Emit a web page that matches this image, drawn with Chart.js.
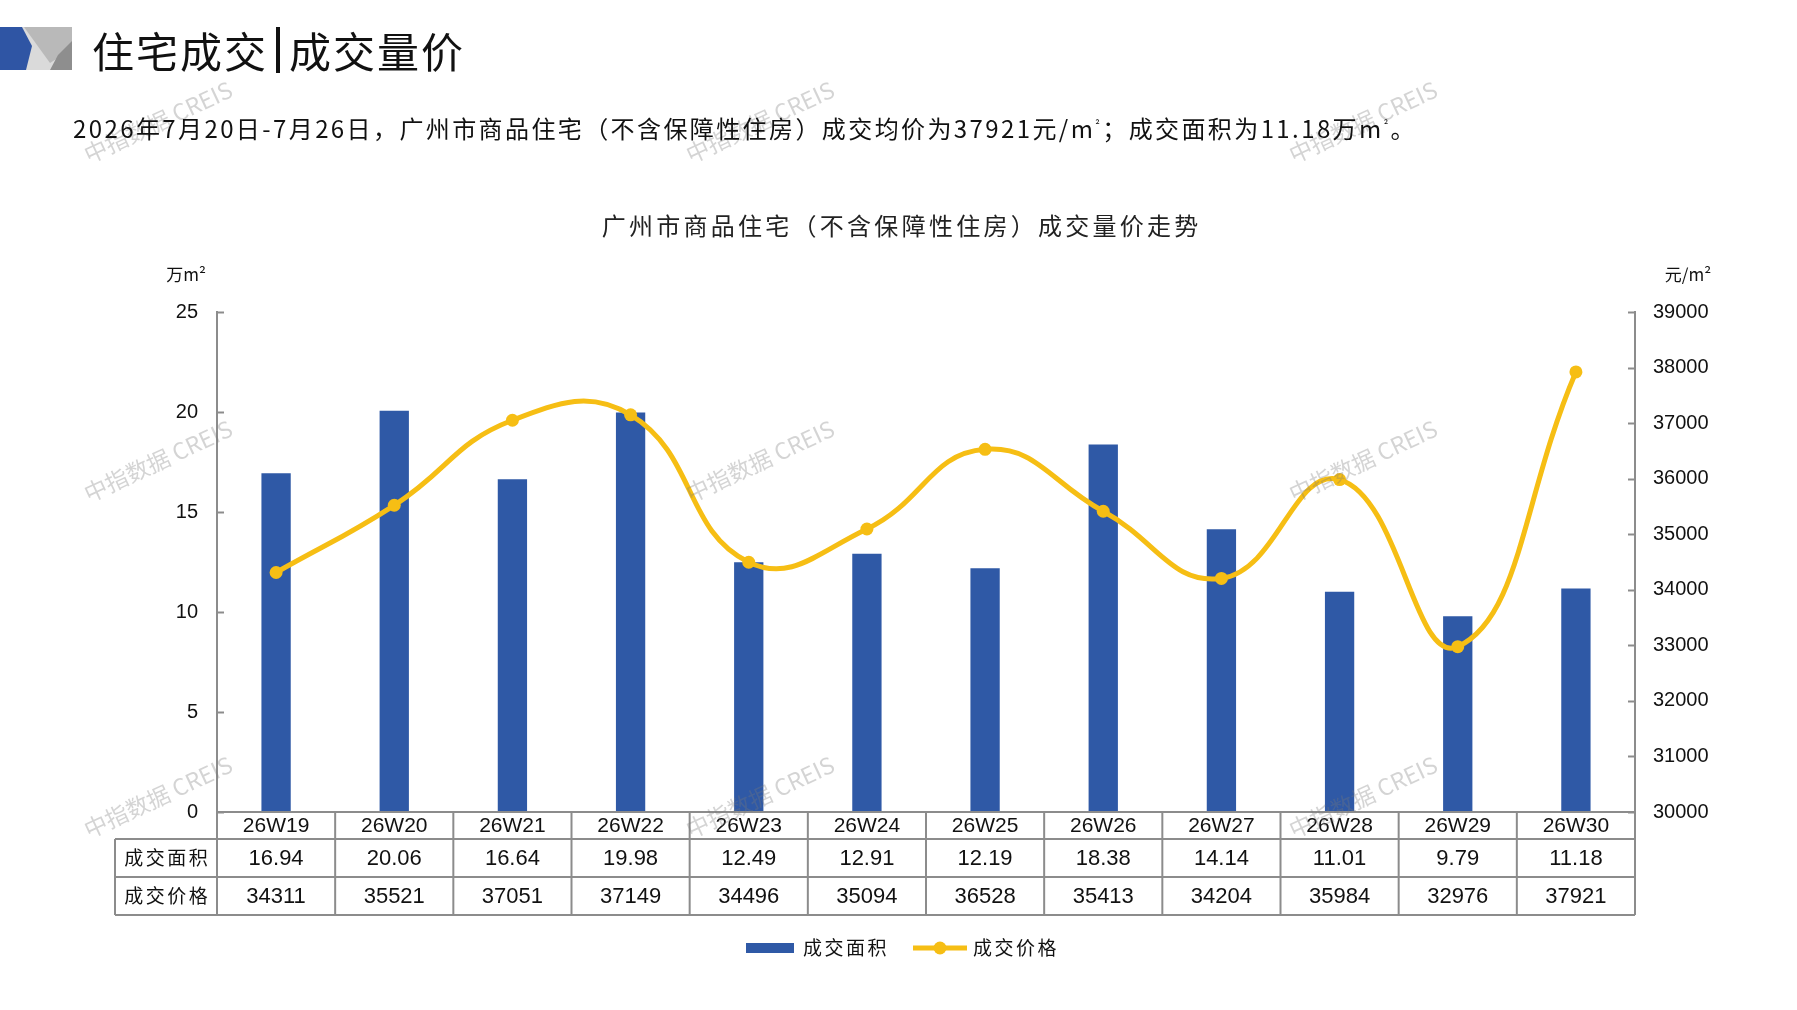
<!DOCTYPE html>
<html lang="zh-CN">
  <head>
    <meta charset="UTF-8" />
    <title>广州市商品住宅成交量价</title>
    <script src="https://cdn.jsdelivr.net/npm/chart.js"></script>
    <style>
      html,
      body {
        width: 100%;
        height: 100%;
        margin: 0;
        padding: 0;
        background: #fff;
        overflow: hidden;
      }
      #wrap {
        position: absolute;
        left: 0;
        top: 0;
        width: 1797px;
        height: 1010px;
      }
      .txt {
        position: absolute;
        white-space: nowrap;
        font-family: "Noto Sans CJK SC", sans-serif;
        color: #111;
        z-index: 2;
      }
      #title {
        left: 92px;
        top: 27px;
        font-size: 42px;
        line-height: 46px;
      }
      #title .sep {
        display: inline-block;
        width: 4px;
        height: 46px;
        background: #111;
        vertical-align: top;
        margin: 0 9px 0 8px;
      }
      #sub {
        left: 73px;
        top: 110px;
        font-size: 24px;
        line-height: 28px;
      }
      #sub .sq {
        font-size: 11px;
        vertical-align: 9px;
      }
      #logo {
        position: absolute;
        left: 0;
        top: 27px;
        z-index: 2;
      }
    </style>
  </head>
  <body>
    <div id="wrap">
      <svg id="logo" width="72" height="43" viewBox="0 0 72 43">
        <rect x="0" y="0" width="72" height="43" fill="#dadada" />
        <polygon points="24,0 72,0 72,22 50,36" fill="#b9b9b9" />
        <polygon points="72,14 72,43 50,43 58,28" fill="#8e8e8e" />
        <polygon points="0,0 22,0 32,19 26,43 0,43" fill="#2f55a4" />
      </svg>
      <div id="title" class="txt"><span class="fit" data-w="176">住宅成交</span><span class="sep"></span><span class="fit" data-w="176">成交量价</span></div>
      <div id="sub" class="txt"><span class="fit" data-w="1344">2026年7月20日-7月26日，广州市商品住宅（不含保障性住房）成交均价为37921元/m<span class="sq">²</span>；成交面积为11.18万m<span class="sq">²</span>。</span></div>
      <canvas id="chart"></canvas>
    </div>

    <script>
      const weeks = ["26W19", "26W20", "26W21", "26W22", "26W23", "26W24", "26W25", "26W26", "26W27", "26W28", "26W29", "26W30"];
      const area = [16.94, 20.06, 16.64, 19.98, 12.49, 12.91, 12.19, 18.38, 14.14, 11.01, 9.79, 11.18];
      const price = [34311, 35521, 37051, 37149, 34496, 35094, 36528, 35413, 34204, 35984, 32976, 37921];
      const seriesNames = ["成交面积", "成交价格"];
      const chartTitle = "广州市商品住宅（不含保障性住房）成交量价走势";
      const leftUnit = "万m²";
      const rightUnit = "元/m²";
      const watermark = "中指数据 CREIS";

      const BLUE = "#2f59a6";
      const GOLD = "#f6be14";
      const GRID = "#8c8c8c";
      const CJK = '"Noto Sans CJK SC"';
      const NARROW = '"Liberation Sans Narrow", "Liberation Sans"';

      // stretch header text to the widths seen in the picture
      document.querySelectorAll(".fit").forEach((el) => {
        el.style.display = "inline-block";
        const w = el.getBoundingClientRect().width;
        const n = el.textContent.length;
        el.style.letterSpacing = (Number(el.dataset.w) - w) / n + "px";
      });

      function spaced(ctx, text, x, y, width) {
        ctx.letterSpacing = "0px";
        const w = ctx.measureText(text).width;
        const s = (width - w) / text.length;
        ctx.letterSpacing = s + "px";
        ctx.fillText(text, x + s / 2, y);
        ctx.letterSpacing = "0px";
      }

      const extras = {
        id: "extras",
        afterDraw(chart) {
          const ctx = chart.ctx;
          const ca = chart.chartArea;
          const xs = chart.scales.x;
          const yl = chart.scales.y;
          const yr = chart.scales.y1;
          ctx.save();

          // chart title
          ctx.fillStyle = "#222";
          ctx.textAlign = "center";
          ctx.textBaseline = "middle";
          ctx.font = "24px " + CJK;
          spaced(ctx, chartTitle, 900, 226, 600);

          // unit labels
          ctx.font = "17px " + CJK;
          ctx.fillStyle = "#111";
          ctx.fillText(leftUnit, 186, 275);
          ctx.fillText(rightUnit, 1688, 275);

          // inward tick marks
          ctx.strokeStyle = GRID;
          ctx.lineWidth = 2;
          yl.ticks.forEach((t) => {
            const py = Math.round(yl.getPixelForValue(t.value)) + 0.5;
            ctx.beginPath();
            ctx.moveTo(ca.left, py);
            ctx.lineTo(ca.left + 7, py);
            ctx.stroke();
          });
          yr.ticks.forEach((t) => {
            const py = Math.round(yr.getPixelForValue(t.value)) + 0.5;
            ctx.beginPath();
            ctx.moveTo(ca.right - 7, py);
            ctx.lineTo(ca.right, py);
            ctx.stroke();
          });

          // data table under the plot
          const step = (ca.right - ca.left) / weeks.length;
          const tLeft = 115;
          const rows = [ca.bottom, ca.bottom + 27, ca.bottom + 65, ca.bottom + 103];
          ctx.beginPath();
          ctx.moveTo(ca.left, rows[0]);
          ctx.lineTo(ca.right, rows[0]);
          for (let r = 1; r < 4; r++) {
            ctx.moveTo(tLeft, rows[r]);
            ctx.lineTo(ca.right, rows[r]);
          }
          for (let k = 0; k <= weeks.length; k++) {
            const bx = ca.left + k * step;
            ctx.moveTo(bx, rows[0]);
            ctx.lineTo(bx, rows[3]);
          }
          ctx.moveTo(tLeft, rows[1]);
          ctx.lineTo(tLeft, rows[3]);
          ctx.stroke();

          ctx.fillStyle = "#111";
          weeks.forEach((wk, i) => {
            const cx = xs.getPixelForValue(i);
            ctx.font = "21px " + NARROW;
            ctx.fillText(wk, cx, (rows[0] + rows[1]) / 2 + 1);
            ctx.font = "22px " + NARROW;
            ctx.fillText(area[i].toFixed(2), cx, (rows[1] + rows[2]) / 2 + 1);
            ctx.fillText(String(price[i]), cx, (rows[2] + rows[3]) / 2 + 1);
          });
          ctx.font = "19px " + CJK;
          const hx = (tLeft + ca.left) / 2;
          spaced(ctx, seriesNames[0], hx, (rows[1] + rows[2]) / 2, 86);
          spaced(ctx, seriesNames[1], hx, (rows[2] + rows[3]) / 2, 86);

          // legend
          const ly = 948;
          ctx.fillStyle = BLUE;
          ctx.fillRect(746, ly - 5, 48, 10);
          ctx.strokeStyle = GOLD;
          ctx.lineWidth = 5;
          ctx.beginPath();
          ctx.moveTo(913, ly);
          ctx.lineTo(967, ly);
          ctx.stroke();
          ctx.fillStyle = GOLD;
          ctx.beginPath();
          ctx.arc(940, ly, 6.5, 0, Math.PI * 2);
          ctx.fill();
          ctx.fillStyle = "#111";
          ctx.textAlign = "left";
          ctx.font = "19px " + CJK;
          ctx.letterSpacing = "2.5px";
          ctx.fillText(seriesNames[0], 803, ly);
          ctx.fillText(seriesNames[1], 973, ly);
          ctx.letterSpacing = "0px";

          // watermarks
          ctx.textAlign = "center";
          ctx.font = "23px " + CJK;
          ctx.fillStyle = "rgba(120,120,120,0.32)";
          [158, 760, 1363].forEach((wx) => {
            [122, 461, 797].forEach((wy) => {
              ctx.save();
              ctx.translate(wx, wy);
              ctx.rotate((-25 * Math.PI) / 180);
              ctx.fillText(watermark, 0, 0);
              ctx.restore();
            });
          });
          ctx.restore();
        },
      };

      const ctx = document.getElementById("chart").getContext("2d");
      new Chart(ctx, {
        data: {
          labels: weeks,
          datasets: [
            {
              type: "line",
              label: seriesNames[1],
              data: price,
              yAxisID: "y1",
              order: 1,
              borderColor: GOLD,
              backgroundColor: GOLD,
              borderWidth: 5,
              tension: 0.45,
              pointRadius: 6.5,
              pointBorderWidth: 0,
              pointBackgroundColor: GOLD,
              clip: false,
            },
            {
              type: "bar",
              label: seriesNames[0],
              data: area,
              yAxisID: "y",
              order: 2,
              backgroundColor: BLUE,
              categoryPercentage: 1,
              barPercentage: 0.248,
            },
          ],
        },
        options: {
          responsive: true,
          maintainAspectRatio: false,
          animation: false,
          layout: { padding: { top: 312, bottom: 95, left: 0, right: 0 } },
          plugins: {
            legend: { display: false },
            title: { display: false },
            tooltip: { enabled: false },
          },
          scales: {
            x: {
              offset: true,
              grid: { display: false },
              border: { display: false },
              ticks: { display: false },
              afterFit: (s) => {
                s.height = 103;
              },
            },
            y: {
              position: "left",
              min: 0,
              max: 25,
              ticks: {
                stepSize: 5,
                color: "#111",
                padding: 19,
                font: { family: "Liberation Sans", size: 20 },
              },
              grid: { display: false, drawTicks: false },
              border: { display: true, color: GRID, width: 2 },
              afterFit: (s) => {
                s.width = 217;
              },
            },
            y1: {
              position: "right",
              min: 30000,
              max: 39000,
              ticks: {
                stepSize: 1000,
                color: "#111",
                padding: 18,
                font: { family: "Liberation Sans", size: 20 },
                callback: (v) => String(v),
              },
              grid: { display: false, drawTicks: false },
              border: { display: true, color: GRID, width: 2 },
              afterFit: (s) => {
                s.width = 162;
              },
            },
          },
        },
        plugins: [extras],
      });
    </script>
  </body>
</html>
